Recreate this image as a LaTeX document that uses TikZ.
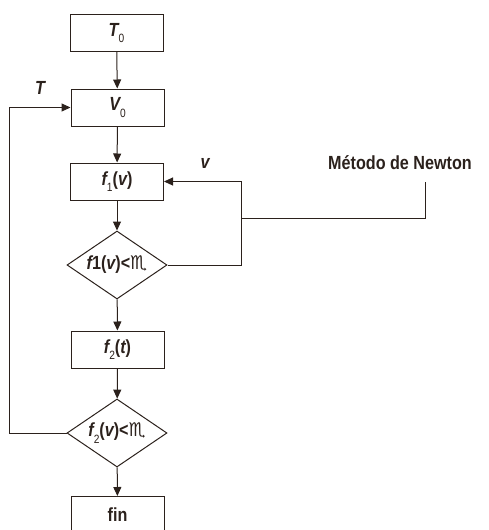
\documentclass[tikz,border=0pt]{standalone}
\usepackage{fontspec}
\setmainfont{Liberation Sans}[FakeStretch=0.85]
\newfontfamily\symf{DejaVu Sans}
\usetikzlibrary{shapes.geometric,arrows.meta}
\definecolor{ink}{RGB}{43,33,28}
\newcommand\subx[1]{\raisebox{-0.35em}{\fontsize{12}{12}\selectfont\mdseries\upshape #1}}
\newcommand\bi[1]{{\bfseries\itshape #1}}
\begin{document}
\begin{tikzpicture}[x=1pt,y=-1pt,
  every node/.style={font=\fontsize{19}{21}\selectfont\bfseries, text=ink},
  procbox/.style={draw=ink, line width=1pt, minimum width=93pt, minimum height=37pt, inner sep=0pt},
  decision/.style={draw=ink, line width=1pt, diamond, minimum width=100pt, minimum height=68pt, inner sep=0pt, aspect=1.47},
  flow/.style={draw=ink, line width=1pt, -{Triangle[length=9pt,width=8pt]}},
  plain/.style={draw=ink, line width=1pt}]
\useasboundingbox (0,0) rectangle (489,530);
\node[procbox] (t0) at (116.5,33) {\bi{T}\subx{0}};
\node[procbox] (v0) at (117.5,107.5) {\bi{V}\subx{0}};
\node[procbox] (f1) at (117,181.5) {\bi{f}\subx{1}(\bi{v})};
\node[decision] (d1) at (117,265) {\bi{f}1(\bi{v})<{\symf\mdseries ♏}};
\node[procbox] (f2) at (117.5,349.5) {\bi{f}\subx{2}(\bi{t})};
\node[decision] (d2) at (117,433) {\bi{f}\subx{2}(\bi{v})<{\symf\mdseries ♏}};
\node[procbox] (fin) at (117.5,515) {fin};
\node (newton) at (400,163) {Método de Newton};
\node (tl) at (40,88) {\bi{T}};
\node (vl) at (205,163) {\bi{v}};
\coordinate (lx) at (9,0);
\coordinate (rx) at (241,0);
\coordinate (nj) at (241,218);
\coordinate (nc) at (425,218);
\coordinate (nt) at (425,182);
\draw[flow] (t0) -- (v0);
\draw[flow] (v0) -- (f1);
\draw[flow] (f1) -- (d1);
\draw[flow] (d1) -- (f2);
\draw[flow] (f2) -- (d2);
\draw[flow] (d2) -- (fin);
\draw[flow] (d1.east) -- (d1.east -| rx) |- (f1.east);
\draw[flow] (d2.west) -- (d2.west -| lx) |- (v0.west);
\draw[plain] (nj) -- (nc) -- (nt);
\end{tikzpicture}
\end{document}
